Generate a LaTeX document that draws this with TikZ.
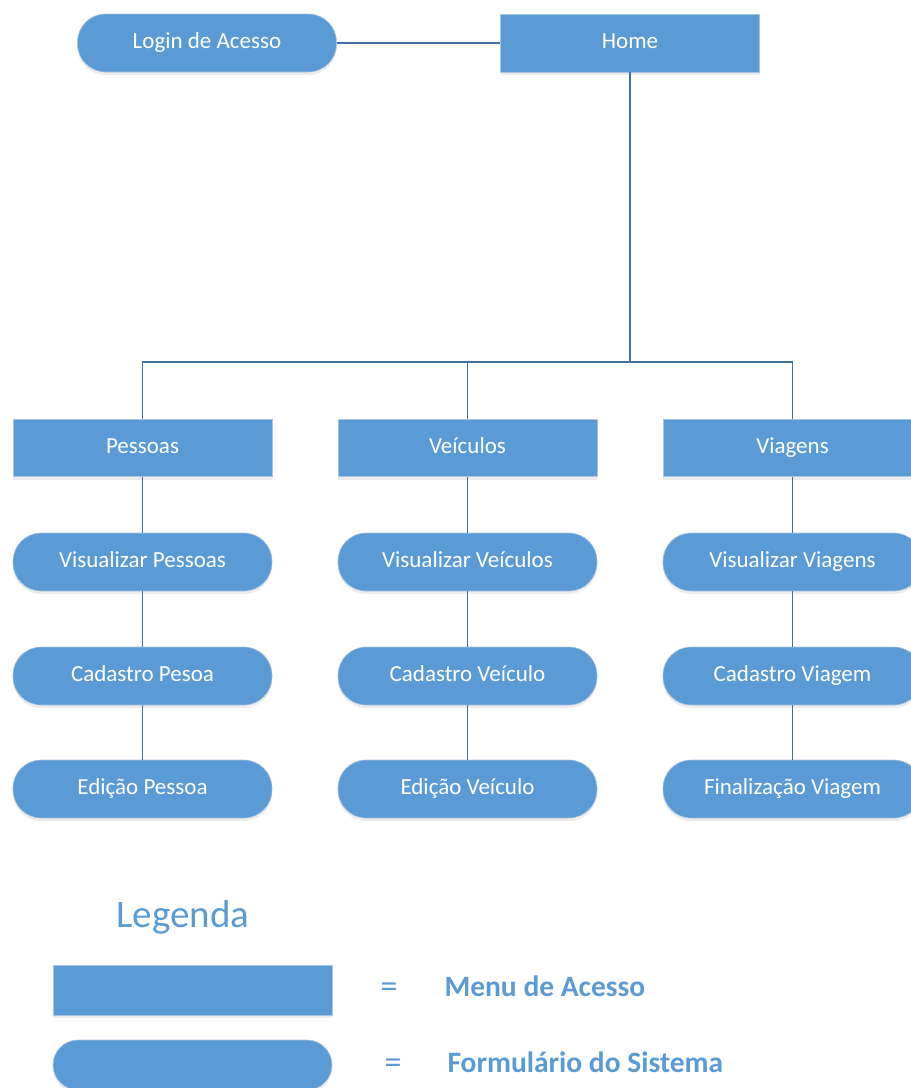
\documentclass[tikz,border=0pt]{standalone}
\usepackage{fontspec}
\setmainfont{Carlito}
\usetikzlibrary{shadows}
\definecolor{boxblue}{HTML}{5B9BD5}
\definecolor{boxedge}{HTML}{A9C4E0}
\definecolor{linkblue}{HTML}{41719C}
\definecolor{legtext}{HTML}{5B9BD5}
\tikzset{
  base/.style={fill=boxblue, draw=boxedge, line width=0.6pt, inner sep=0pt,
    text=white, font=\fontsize{23}{27}\selectfont,
    text height=1.1em, text depth=0em,
    drop shadow={shadow xshift=0pt, shadow yshift=-3pt, opacity=0.12, fill=black!60}},
  menubox/.style={base, rectangle, minimum width=259pt, minimum height=57pt},
  formbox/.style={base, rectangle, rounded corners=28pt, minimum width=259pt, minimum height=58pt},
  link/.style={draw=linkblue, line width=1.4pt},
  legendtext/.style={text=legtext, font=\fontsize{29.5}{34}\selectfont\bfseries, anchor=west},
  equals/.style={text=legtext, font=\fontsize{34}{38}\selectfont},
}
\begin{document}
\begin{tikzpicture}[x=1pt, y=-1pt]
\useasboundingbox (0,0) rectangle (911,1088);
\clip (0,0) rectangle (911,1088);

% top level
\node[formbox] (login) at (207,43) {Login de Acesso};
\node[menubox, minimum height=58pt] (home) at (630,43) {Home};

% menus
\node[menubox] (pes) at (142.5,448) {Pessoas};
\node[menubox] (vei) at (467.5,448) {Veículos};
\node[menubox] (via) at (792.5,448) {Viagens};

% forms
\node[formbox] (pes1) at (142.5,562) {Visualizar Pessoas};
\node[formbox] (pes2) at (142.5,676) {Cadastro Pesoa};
\node[formbox] (pes3) at (142.5,789) {Edição Pessoa};
\node[formbox] (vei1) at (467.5,562) {Visualizar Veículos};
\node[formbox] (vei2) at (467.5,676) {Cadastro Veículo};
\node[formbox] (vei3) at (467.5,789) {Edição Veículo};
\node[formbox] (via1) at (792.5,562) {Visualizar Viagens};
\node[formbox] (via2) at (792.5,676) {Cadastro Viagem};
\node[formbox] (via3) at (792.5,789) {Finalização Viagem};

% connectors
\coordinate (hub) at (630,362);
\path[link] (login) -- (home);
\path[link] (home) -- (hub);
\path[link] (pes.north) |- (hub);
\path[link] (vei.north) |- (hub);
\path[link] (via.north) |- (hub);
\path[link] (pes) -- (pes1);
\path[link] (pes1) -- (pes2);
\path[link] (pes2) -- (pes3);
\path[link] (vei) -- (vei1);
\path[link] (vei1) -- (vei2);
\path[link] (vei2) -- (vei3);
\path[link] (via) -- (via1);
\path[link] (via1) -- (via2);
\path[link] (via2) -- (via3);

% legend
\node[text=legtext, font=\fontsize{39}{44}\selectfont] (legtitle) at (183,917) {Legenda};
\node[menubox, minimum width=279pt, minimum height=50pt] (legmenu) at (192.5,990) {};
\node[formbox, minimum width=279pt, minimum height=50pt, rounded corners=25pt] (legform) at (192.5,1065) {};
\node[equals] (eq1) at (389,990) {=};
\node[equals] (eq2) at (393,1066) {=};
\node[legendtext] (lab1) at (441,986) {Menu de Acesso};
\node[legendtext] (lab2) at (444,1062) {Formulário do Sistema};
\end{tikzpicture}
\end{document}
